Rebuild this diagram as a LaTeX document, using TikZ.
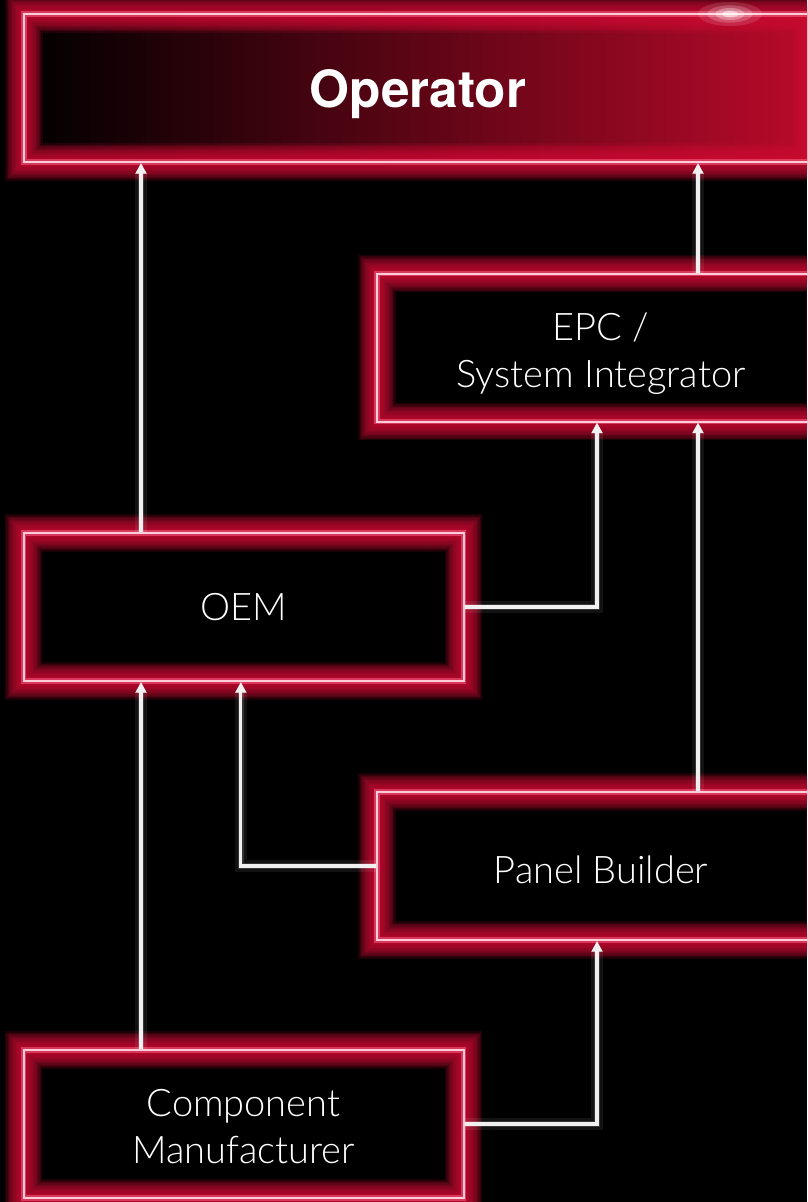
\documentclass[tikz,border=0pt]{standalone}
\usepackage{fontspec}
\setmainfont{TeX Gyre Heros}
\newfontfamily\thinfont{Lato}[UprightFont={* Light}]
\usetikzlibrary{arrows.meta}

\definecolor{neonred}{RGB}{205,12,52}
\definecolor{neonpink}{RGB}{245,90,125}
\definecolor{neonline}{RGB}{255,205,215}
\definecolor{winered}{RGB}{55,0,10}
\definecolor{brightred}{RGB}{185,10,42}

% drop a line of text without changing its box
\newcommand\lowtext[2]{\raisebox{-#1}[\height][\depth]{#2}}

\tikzset{
  glowbox/.style={rectangle, draw=neonline, line width=1.5pt, text=white,
    align=center, minimum height=111pt, inner sep=0pt,
    preaction={draw=neonred, line width=28pt, draw opacity=0.15},
    preaction={draw=neonred, line width=26pt, draw opacity=0.15},
    preaction={draw=neonred, line width=24pt, draw opacity=0.15},
    preaction={draw=neonred, line width=22pt, draw opacity=0.15},
    preaction={draw=neonred, line width=20pt, draw opacity=0.15},
    preaction={draw=neonred, line width=18pt, draw opacity=0.15},
    preaction={draw=neonred, line width=16pt, draw opacity=0.15},
    preaction={draw=neonred, line width=14pt, draw opacity=0.15},
    preaction={draw=neonred, line width=12pt, draw opacity=0.15},
    preaction={draw=neonred, line width=10pt, draw opacity=0.15},
    preaction={draw=neonred, line width=8pt, draw opacity=0.15},
    preaction={draw=neonred, line width=6pt, draw opacity=0.15},
    preaction={draw=neonpink, line width=4pt, draw opacity=0.6}},
  topbox/.style={preaction={left color=black, middle color=winered,
    right color=brightred}, glowbox},
  flow/.style={draw=white!94!black, line width=2.3pt,
    -{Triangle[length=8pt,width=8pt]},
    preaction={draw=white, line width=9pt, draw opacity=0.07},
    preaction={draw=white, line width=5pt, draw opacity=0.15}},
  roletext/.style={font=\thinfont\fontsize{28.5}{35.5}\selectfont}
}

\begin{document}
\begin{tikzpicture}[x=0.75pt,y=-0.75pt]
  \useasboundingbox (0,0) rectangle (807,1202);
  \fill[black] (0,0) rectangle (807,1202);
  \clip (0,0) rectangle (807,1202);

  % boxes
  \node[topbox, minimum width=591pt, font=\bfseries\fontsize{38.5}{40}\selectfont]
    (operator) at (418,88) {\lowtext{4.5pt}{Operator}};
  \node[glowbox, minimum width=336pt, roletext] (epc) at (601,347.5)
    {\lowtext{4.5pt}{EPC /}\\\lowtext{4.5pt}{System Integrator}};
  \node[glowbox, minimum width=330pt, roletext] (oem) at (243.5,607) {OEM};
  \node[glowbox, minimum width=336pt, roletext] (panel) at (601,866)
    {\lowtext{3pt}{Panel Builder}};
  \node[glowbox, minimum width=330pt, roletext] (comp) at (243.5,1124)
    {\lowtext{2pt}{Component}\\\lowtext{2pt}{Manufacturer}};

  % highlight on the top edge
  \fill[white, opacity=0.12] (730,14) ellipse (24pt and 9pt);
  \fill[white, opacity=0.2] (730,14) ellipse (17pt and 6.5pt);
  \fill[white, opacity=0.3] (730,14) ellipse (11pt and 4.5pt);
  \fill[white, opacity=0.5] (730,14) ellipse (6pt and 2.5pt);

  % connectors
  \draw[flow] ([xshift=-76.875pt]comp.north) -- ([xshift=-76.875pt]oem.south);
  \draw[flow] ([xshift=-76.875pt]oem.north) -- ([xshift=-207.75pt]operator.south);
  \draw[flow] ([xshift=72.75pt]epc.north) -- ([xshift=210pt]operator.south);
  \draw[flow] ([xshift=72.75pt]panel.north) -- ([xshift=72.75pt]epc.south);
  \draw[flow] (oem.east) -| ([xshift=-3pt]epc.south);
  \draw[flow] (panel.west) -| ([xshift=-2pt]oem.south);
  \draw[flow] (comp.east) -| ([xshift=-3pt]panel.south);
\end{tikzpicture}
\end{document}
